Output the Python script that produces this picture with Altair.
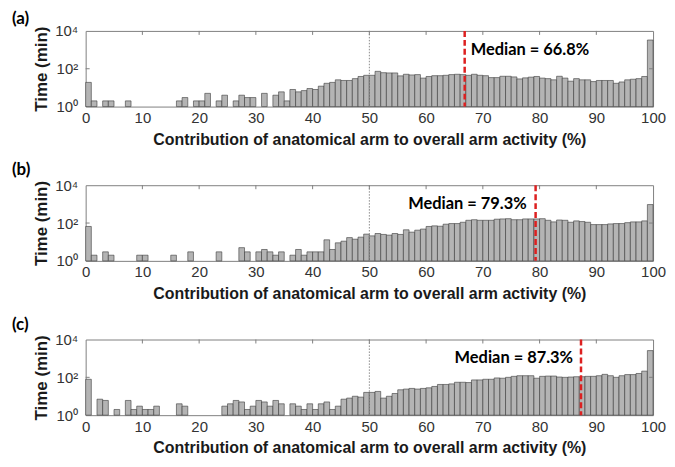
import altair as alt
import pandas as pd

bins = list(range(100))
a_vals = [19, 2, 0, 2, 2, 0, 0, 2, 0, 0,
          0, 0, 0, 0, 0, 0, 2, 3, 0, 2,
          2, 5, 0, 2, 4, 0, 2, 4, 3, 3,
          0, 5, 0, 4, 6, 2, 8, 6, 7, 9,
          8, 12, 17, 19, 26, 24, 24, 30, 39, 45,
          45, 73, 62, 60, 60, 42, 51, 47, 49, 32,
          39, 43, 43, 45, 49, 51, 49, 45, 51, 45,
          43, 34, 34, 40, 40, 37, 29, 33, 36, 39,
          32, 30, 26, 40, 32, 22, 30, 26, 26, 21,
          24, 24, 24, 17, 20, 26, 28, 30, 39, 3300]
b_vals = [66, 2, 0, 3, 2, 0, 0, 0, 0, 2,
          2, 0, 0, 0, 0, 2, 0, 0, 3, 0,
          0, 0, 0, 3, 0, 0, 0, 5, 3, 0,
          3, 4, 3, 2, 3, 0, 2, 4, 2, 3,
          3, 3, 13, 4, 9, 11, 17, 14, 18, 26,
          21, 28, 25, 23, 28, 25, 44, 33, 42, 48,
          66, 71, 68, 87, 94, 94, 110, 140, 150, 140,
          140, 140, 160, 165, 170, 150, 150, 165, 165, 165,
          170, 140, 115, 145, 140, 110, 130, 120, 110, 83,
          83, 83, 90, 94, 94, 105, 115, 115, 130, 950]
c_vals = [79, 0, 7, 6, 0, 2, 0, 6, 2, 3,
          2, 2, 3, 0, 0, 0, 4, 3, 0, 0,
          0, 0, 0, 0, 3, 4, 6, 5, 2, 3,
          6, 5, 3, 6, 4, 0, 4, 3, 2, 4,
          2, 4, 5, 2, 3, 7, 8, 10, 9, 16,
          16, 18, 8, 10, 14, 22, 24, 26, 24, 26,
          28, 33, 42, 42, 45, 55, 55, 53, 73, 73,
          79, 79, 93, 90, 100, 113, 122, 122, 122, 90,
          113, 117, 117, 104, 100, 104, 108, 108, 113, 113,
          122, 144, 122, 100, 122, 140, 140, 160, 213, 2600]
medians = [66.8, 79.3, 87.3]
panel_labels = ["(a)", "(b)", "(c)"]
x_ticks = list(range(0, 101, 10))
inner_x_ticks = list(range(10, 100, 10))
y_ticks = [1, 100, 10000]
x_title = "Contribution of anatomical arm to overall arm activity (%)"
y_title = "Time (min)"

W, H = 570, 76
LEFT = 74  # distance from panel-label left edge to plot left
xs = alt.Scale(domain=[0, 100], nice=False, zero=False)
ys = alt.Scale(type="log", domain=[1, 10000], nice=False)
x_axis = alt.Axis(values=x_ticks, labelFlush=False, labelPadding=4,
                  titlePadding=6, titleFontSize=16)
y_axis = alt.Axis(values=y_ticks, labelPadding=8, titlePadding=4, titleFontSize=17,
                  labelExpr="datum.value == 1 ? '10⁰' : (datum.value == 100 ? '10²' : '10⁴')")


def xenc(field):
    return alt.X(field, type="quantitative", scale=xs, title=x_title, axis=x_axis)


def yenc(field):
    return alt.Y(field, type="quantitative", scale=ys, title=y_title, axis=y_axis)


def panel(vals, med, lab, text_align, text_dx, lab_y):
    df = pd.DataFrame({"lo": bins, "hi": [b + 1 for b in bins], "t": vals})
    df = df[df.t > 0].copy()
    df["base"] = 1
    bars = alt.Chart(df).mark_rect(fill="#b4b4b4", stroke="#3a3a3a", strokeWidth=0.6).encode(
        x=xenc("lo"), x2="hi:Q", y=yenc("t"), y2="base:Q")
    dot = alt.Chart(pd.DataFrame({"x": [50]})).mark_rule(
        color="#8a8a8a", strokeDash=[1.5, 1.5], strokeWidth=1).encode(x=xenc("x"))
    medrule = alt.Chart(pd.DataFrame({"x": [med]})).mark_rule(
        color="#dd2020", strokeDash=[6, 3], strokeWidth=2.5).encode(x=xenc("x"))
    medtext = alt.Chart(pd.DataFrame({"x": [med], "lab": [f"Median = {med}%"]})).mark_text(
        align=text_align, baseline="middle", dx=text_dx, font="Lato", fontWeight="bold",
        fontSize=16.5, color="#000000").encode(
        x=xenc("x"), y=alt.value(19), text="lab:N")
    topticks = alt.Chart(pd.DataFrame({"x": inner_x_ticks})).mark_rule(
        color="#808080", strokeWidth=1).encode(
        x=xenc("x"), y=alt.value(0), y2=alt.value(4))
    lticks = alt.Chart(pd.DataFrame({"y": [100]})).mark_rule(
        color="#808080", strokeWidth=1).encode(
        y=yenc("y"), x=alt.value(0), x2=alt.value(4))
    rticks = alt.Chart(pd.DataFrame({"y": [100]})).mark_rule(
        color="#808080", strokeWidth=1).encode(
        y=yenc("y"), x=alt.value(W - 4), x2=alt.value(W))
    plab = alt.Chart(pd.DataFrame({"lab": [lab]})).mark_text(
        align="left", baseline="middle", font="Lato", fontWeight="bold", fontSize=17,
        color="#000000").encode(
        x=alt.value(-LEFT), y=alt.value(lab_y), text="lab:N")
    return alt.layer(bars, dot, medrule, medtext, topticks, lticks, rticks, plab).properties(
        width=W, height=H)


pa = panel(a_vals, medians[0], panel_labels[0], "left", 6, -12)
pb = panel(b_vals, medians[1], panel_labels[1], "right", -9, -15)
pc = panel(c_vals, medians[2], panel_labels[2], "right", -8, -15)

chart = alt.vconcat(pa, pb, pc, spacing=79, bounds="flush").properties(
    padding={"left": 3, "top": 0, "right": 0, "bottom": 0}
).configure_view(
    stroke="#808080", strokeWidth=1
).configure_axis(
    domain=False, ticks=False, grid=False,
    labelFont="Liberation Sans", labelFontSize=15, labelColor="#333333",
    titleFont="Liberation Sans", titleFontWeight="bold", titleColor="#1a1a1a"
)

chart.save("out.html", embed_options={"renderer": "svg", "actions": False})
